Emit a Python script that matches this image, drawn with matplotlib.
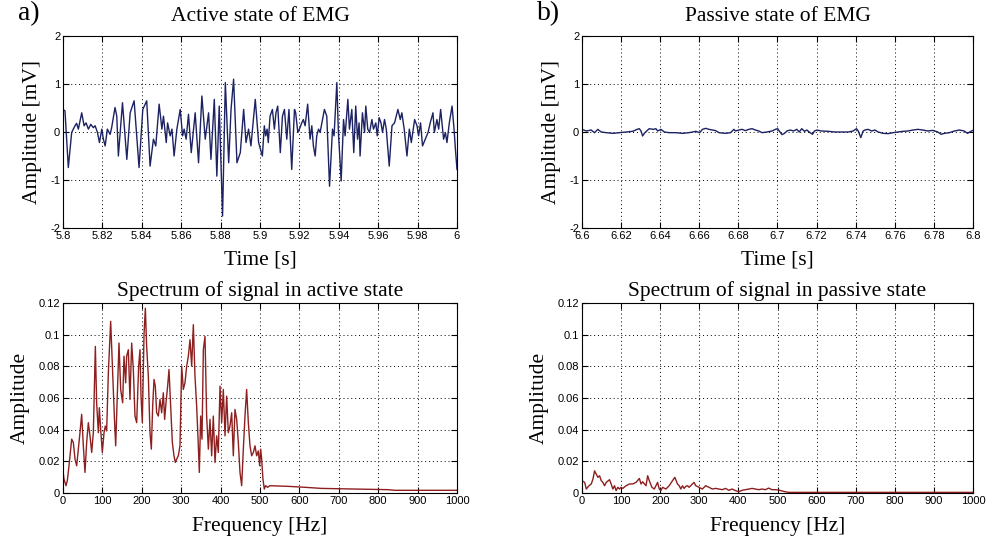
import matplotlib
matplotlib.use("Agg")
import matplotlib.pyplot as plt
from matplotlib.ticker import FixedLocator, FormatStrFormatter

plt.rcParams['axes.unicode_minus'] = False

# ---------------- data ----------------
active_t = [5.8000, 5.8010, 5.8027, 5.8044, 5.8061, 5.8069, 5.8078, 5.8095, 5.8107, 5.8117,
            5.8129, 5.8141, 5.8154, 5.8163, 5.8175, 5.8185, 5.8197, 5.8205, 5.8214, 5.8225,
            5.8239, 5.8247, 5.8264, 5.8273, 5.8281, 5.8302, 5.8324, 5.8341, 5.8361, 5.8386,
            5.8405, 5.8425, 5.8442, 5.8459, 5.8471, 5.8488, 5.8502, 5.8510, 5.8524, 5.8531,
            5.8544, 5.8553, 5.8564, 5.8578, 5.8595, 5.8607, 5.8615, 5.8625, 5.8637, 5.8651,
            5.8671, 5.8688, 5.8705, 5.8722, 5.8739, 5.8751, 5.8768, 5.8781, 5.8793, 5.8810,
            5.8824, 5.8841, 5.8853, 5.8866, 5.8883, 5.8900, 5.8917, 5.8929, 5.8942, 5.8954,
            5.8976, 5.8993, 5.9012, 5.9022, 5.9029, 5.9036, 5.9042, 5.9051, 5.9063, 5.9073,
            5.9081, 5.9090, 5.9103, 5.9114, 5.9124, 5.9136, 5.9147, 5.9161, 5.9175, 5.9181,
            5.9192, 5.9200, 5.9212, 5.9220, 5.9229, 5.9242, 5.9254, 5.9263, 5.9271, 5.9280,
            5.9288, 5.9297, 5.9305, 5.9327, 5.9339, 5.9353, 5.9368, 5.9376, 5.9390, 5.9398,
            5.9412, 5.9424, 5.9432, 5.9446, 5.9454, 5.9466, 5.9476, 5.9486, 5.9495, 5.9503,
            5.9508, 5.9520, 5.9531, 5.9537, 5.9547, 5.9556, 5.9568, 5.9576, 5.9588, 5.9595,
            5.9605, 5.9614, 5.9622, 5.9632, 5.9641, 5.9656, 5.9670, 5.9683, 5.9700, 5.9712,
            5.9720, 5.9732, 5.9746, 5.9758, 5.9768, 5.9785, 5.9797, 5.9805, 5.9815, 5.9825,
            5.9839, 5.9853, 5.9864, 5.9878, 5.9885, 5.9898, 5.9907, 5.9917, 5.9932, 5.9941,
            5.9949, 5.9961, 5.9975, 5.9985, 5.9992, 6.0000]
active_v = [0.47, 0.44, -0.74, -0.01, 0.13, 0.18, 0.06, 0.40, 0.13, 0.19,
            0.06, 0.16, 0.09, 0.13, -0.01, -0.22, 0.06, -0.15, -0.29, 0.06,
            -0.05, 0.09, 0.51, 0.33, -0.50, 0.61, -0.57, 0.40, 0.65, -0.74,
            0.47, 0.65, -0.71, -0.15, -0.29, 0.58, 0.06, 0.33, -0.22, 0.19,
            -0.08, 0.06, -0.50, 0.06, 0.47, -0.08, 0.06, -0.15, 0.37, -0.43,
            0.40, -0.64, 0.75, -0.15, 0.40, -0.57, 0.68, -0.92, 0.54, -1.75,
            1.03, -0.64, 0.47, 1.10, -0.64, -0.43, 0.47, -0.22, 0.06, -0.29,
            0.68, -0.22, -0.50, 0.13, -0.08, 0.06, -0.22, 0.33, 0.47, 0.06,
            0.40, 0.54, -0.43, 0.33, 0.47, -0.15, 0.47, -0.78, 0.47, 0.40,
            -0.01, 0.06, 0.19, 0.26, 0.13, 0.58, -0.15, 0.13, -0.29, -0.50,
            -0.08, 0.06, -0.01, 0.47, 0.33, -1.13, 0.06, -0.08, 1.03, -0.01,
            -1.02, 0.26, -0.08, 0.68, 0.06, 0.47, -0.43, 0.54, -0.15, 0.19,
            -0.50, 0.40, -0.01, 0.54, 0.06, -0.01, 0.26, 0.06, 0.19, -0.08,
            0.30, 0.19, -0.01, 0.26, 0.06, -0.71, 0.13, 0.19, 0.47, 0.26,
            0.40, 0.06, -0.50, 0.06, -0.22, 0.26, 0.13, -0.08, 0.19, -0.29,
            -0.15, -0.01, 0.19, 0.40, -0.01, 0.26, 0.06, 0.47, -0.15, -0.01,
            -0.22, 0.19, 0.54, 0.06, -0.36, -0.78]

passive_t = [6.6000, 6.6022, 6.6047, 6.6064, 6.6081, 6.6098, 6.6124, 6.6158, 6.6192, 6.6226,
             6.6259, 6.6282, 6.6293, 6.6302, 6.6310, 6.6319, 6.6331, 6.6344, 6.6365, 6.6378,
             6.6387, 6.6404, 6.6421, 6.6446, 6.6480, 6.6514, 6.6548, 6.6582, 6.6602, 6.6616,
             6.6633, 6.6650, 6.6667, 6.6684, 6.6700, 6.6734, 6.6760, 6.6777, 6.6785, 6.6802,
             6.6819, 6.6836, 6.6853, 6.6870, 6.6887, 6.6904, 6.6921, 6.6946, 6.6972, 6.6989,
             6.7001, 6.7009, 6.7023, 6.7036, 6.7048, 6.7065, 6.7082, 6.7099, 6.7111, 6.7124,
             6.7138, 6.7150, 6.7167, 6.7179, 6.7189, 6.7201, 6.7226, 6.7260, 6.7294, 6.7328,
             6.7362, 6.7387, 6.7404, 6.7413, 6.7426, 6.7438, 6.7447, 6.7464, 6.7481, 6.7498,
             6.7515, 6.7540, 6.7565, 6.7591, 6.7616, 6.7642, 6.7667, 6.7693, 6.7718, 6.7744,
             6.7769, 6.7794, 6.7820, 6.7837, 6.7854, 6.7879, 6.7905, 6.7930, 6.7955, 6.7972,
             6.7989, 6.8000]
passive_v = [0.055, 0.021, 0.041, -0.014, 0.055, 0.0, -0.014, -0.028, -0.014, 0.0,
             0.014, 0.055, 0.069, 0.021, -0.083, -0.028, 0.021, 0.069, 0.055, 0.069,
             0.021, 0.055, 0.0, -0.014, -0.014, -0.028, -0.014, 0.014, -0.014, 0.055,
             0.076, 0.055, 0.041, 0.028, -0.014, -0.028, -0.014, 0.055, 0.021, 0.041,
             0.055, 0.028, 0.055, 0.069, 0.041, 0.021, -0.014, 0.0, 0.021, 0.055,
             0.069, 0.021, -0.055, -0.028, 0.021, 0.041, 0.021, 0.055, 0.0, 0.069,
             0.014, 0.041, -0.014, -0.048, 0.021, 0.041, 0.021, 0.014, 0.0, 0.0,
             0.0, 0.021, 0.069, 0.021, -0.117, 0.021, 0.041, 0.055, 0.021, 0.041,
             0.0, -0.028, -0.034, -0.014, 0.0, 0.014, 0.021, 0.041, 0.055, 0.041,
             0.021, 0.034, 0.0, -0.048, -0.028, -0.014, 0.021, 0.041, 0.021, -0.028,
             0.014, 0.034]

active_f = [0.0, 2.5, 7.6, 11.0, 16.1, 22.0, 26.2, 30.5, 34.7, 38.9,
            43.1, 47.4, 51.6, 55.8, 60.1, 64.3, 68.5, 72.8, 77.0, 82.1,
            85.4, 89.7, 92.2, 95.6, 99.8, 104.1, 107.4, 110.8, 115.1, 121.0,
            126.1, 130.3, 133.7, 137.9, 142.1, 146.4, 151.4, 154.8, 159.0, 161.6,
            165.8, 170.0, 174.3, 178.5, 182.7, 187.0, 192.0, 195.4, 198.0, 201.3,
            205.6, 209.0, 212.3, 216.6, 220.8, 224.2, 227.6, 231.0, 234.3, 237.7,
            242.0, 246.2, 250.4, 254.6, 258.0, 261.4, 265.6, 269.0, 273.3, 277.5,
            281.7, 285.1, 288.5, 292.7, 296.9, 301.2, 305.4, 309.6, 313.9, 318.1,
            322.3, 326.6, 330.8, 335.0, 339.2, 343.5, 346.0, 349.4, 352.8, 356.2,
            360.4, 364.6, 368.9, 373.1, 377.3, 381.5, 385.8, 390.0, 394.2, 398.5,
            402.7, 406.9, 411.2, 415.4, 419.6, 423.8, 428.1, 432.3, 436.5, 440.8,
            445.0, 449.2, 453.5, 457.7, 461.9, 466.1, 470.4, 474.6, 478.8, 483.1,
            487.3, 491.5, 495.8, 499.1, 501.7, 504.2, 507.5, 510.9, 514.3, 519.4,
            525.3, 571.8, 614.1, 656.4, 741.0, 825.6, 842.5, 994.8, 1000.0]
active_a = [0.0140, 0.0088, 0.0046, 0.0078, 0.0193, 0.0340, 0.0319, 0.0214, 0.0172, 0.0277,
            0.0381, 0.0497, 0.0298, 0.0130, 0.0319, 0.0444, 0.0361, 0.0256, 0.0381, 0.0926,
            0.0570, 0.0381, 0.0539, 0.0402, 0.0256, 0.0381, 0.0423, 0.0392, 0.0759, 0.1084,
            0.0759, 0.0486, 0.0298, 0.0612, 0.0947, 0.0654, 0.0570, 0.0864, 0.0696, 0.0864,
            0.0905, 0.0591, 0.0947, 0.0780, 0.0486, 0.0444, 0.0801, 0.0905, 0.0612, 0.0444,
            0.1000, 0.1167, 0.0926, 0.0738, 0.0381, 0.0277, 0.0549, 0.0717, 0.0675, 0.0507,
            0.0486, 0.0591, 0.0507, 0.0633, 0.0465, 0.0570, 0.0675, 0.0780, 0.0549, 0.0319,
            0.0235, 0.0193, 0.0214, 0.0235, 0.0298, 0.0801, 0.0654, 0.0696, 0.0801, 0.0864,
            0.0968, 0.0801, 0.1063, 0.0738, 0.0549, 0.0298, 0.0130, 0.0486, 0.0340, 0.0905,
            0.0989, 0.0486, 0.0277, 0.0465, 0.0235, 0.0486, 0.0193, 0.0361, 0.0256, 0.0675,
            0.0444, 0.0654, 0.0361, 0.0612, 0.0381, 0.0423, 0.0507, 0.0235, 0.0528, 0.0465,
            0.0319, 0.0130, 0.0046, 0.0277, 0.0486, 0.0654, 0.0444, 0.0298, 0.0235, 0.0256,
            0.0298, 0.0235, 0.0266, 0.0172, 0.0277, 0.0214, 0.0088, 0.0025, 0.0046, 0.0036,
            0.0046, 0.0042, 0.0036, 0.0029, 0.0025, 0.0021, 0.0017, 0.0017, 0.0017]

passive_f = [0.0, 6.8, 11.0, 17.8, 23.7, 28.0, 32.2, 36.5, 40.7, 44.9,
             49.2, 53.4, 57.7, 61.9, 70.4, 74.6, 78.9, 83.1, 87.3, 91.6,
             95.8, 100.1, 104.3, 112.8, 121.3, 129.7, 138.2, 146.7, 150.9, 155.2,
             163.7, 167.9, 172.1, 178.9, 184.9, 189.1, 193.3, 197.6, 201.8, 206.1,
             214.5, 223.0, 231.5, 237.4, 244.2, 248.5, 252.7, 256.9, 261.2, 265.4,
             269.7, 273.9, 282.4, 286.6, 290.9, 299.3, 307.8, 316.3, 324.8, 333.3,
             341.7, 350.2, 358.7, 367.2, 375.7, 384.1, 392.6, 401.1, 409.6, 418.1,
             426.5, 435.0, 443.5, 452.0, 460.5, 468.9, 477.4, 485.9, 494.4, 502.9,
             511.3, 519.8, 528.3, 1000.0]
passive_a = [0.0078, 0.0067, 0.0025, 0.0046, 0.0057, 0.0088, 0.0140, 0.0119, 0.0099, 0.0109,
             0.0078, 0.0067, 0.0046, 0.0067, 0.0084, 0.0057, 0.0025, 0.0046, 0.0015, 0.0036,
             0.0025, 0.0036, 0.0029, 0.0046, 0.0057, 0.0057, 0.0067, 0.0092, 0.0057, 0.0071,
             0.0046, 0.0109, 0.0078, 0.0036, 0.0025, 0.0046, 0.0067, 0.0025, 0.0015, 0.0036,
             0.0025, 0.0046, 0.0078, 0.0099, 0.0057, 0.0046, 0.0025, 0.0046, 0.0029, 0.0042,
             0.0046, 0.0036, 0.0057, 0.0067, 0.0046, 0.0036, 0.0025, 0.0046, 0.0036, 0.0025,
             0.0029, 0.0025, 0.0021, 0.0029, 0.0017, 0.0025, 0.0015, 0.0008, 0.0017, 0.0021,
             0.0025, 0.0029, 0.0025, 0.0021, 0.0025, 0.0021, 0.0031, 0.0021, 0.0021, 0.0019,
             0.0013, 0.0008, 0.0004, 0.0004]

time_ticks_a = [5.8, 5.82, 5.84, 5.86, 5.88, 5.9, 5.92, 5.94, 5.96, 5.98, 6.0]
time_ticks_b = [6.6, 6.62, 6.64, 6.66, 6.68, 6.7, 6.72, 6.74, 6.76, 6.78, 6.8]
emg_yticks = [-2, -1, 0, 1, 2]
freq_ticks = [0, 100, 200, 300, 400, 500, 600, 700, 800, 900, 1000]
spec_yticks = [0, 0.02, 0.04, 0.06, 0.08, 0.1, 0.12]

# ---------------- style ----------------
W, H = 990, 541
SERIF = ['Liberation Serif', 'DejaVu Serif']
SANS = ['Liberation Sans', 'DejaVu Sans']
SIG_COLOR = '#1c2262'
SPEC_COLOR = '#8e1f1f'

fig = plt.figure(figsize=(W / 100, H / 100), dpi=100)


def make_axes(left, top, right, bottom):
    return fig.add_axes([left / W, 1 - bottom / H, (right - left) / W, (bottom - top) / H])


def style(ax, xticks, yticks, xlim, ylim):
    ax.set_xlim(*xlim)
    ax.set_ylim(*ylim)
    ax.xaxis.set_major_locator(FixedLocator(xticks))
    ax.yaxis.set_major_locator(FixedLocator(yticks))
    ax.xaxis.set_major_formatter(FormatStrFormatter('%g'))
    ax.yaxis.set_major_formatter(FormatStrFormatter('%g'))
    ax.tick_params(direction='in', length=4, width=0.8, top=True, right=True,
                   labelsize=8, pad=2, colors='k')
    for lab in ax.get_xticklabels() + ax.get_yticklabels():
        lab.set_family(SANS)
    ax.grid(True, color='k', linestyle=(0, (1, 3)), linewidth=0.7)
    for s in ax.spines.values():
        s.set_linewidth(0.8)
        s.set_color('k')


ax1 = make_axes(63, 36, 457, 228)
ax1.plot(active_t, active_v, color=SIG_COLOR, lw=1.0)
style(ax1, time_ticks_a, emg_yticks, (5.8, 6.0), (-2, 2))
ax1.set_title('Active state of EMG', family=SERIF, fontsize=15.5, pad=11)
ax1.set_xlabel('Time [s]', family=SERIF, fontsize=15.5, labelpad=7)
ax1.set_ylabel('Amplitude [mV]', family=SERIF, fontsize=15.5, labelpad=6)

ax2 = make_axes(582, 36, 973, 228)
ax2.plot(passive_t, passive_v, color=SIG_COLOR, lw=1.0)
style(ax2, time_ticks_b, emg_yticks, (6.6, 6.8), (-2, 2))
ax2.set_title('Passive state of EMG', family=SERIF, fontsize=15.5, pad=11)
ax2.set_xlabel('Time [s]', family=SERIF, fontsize=15.5, labelpad=7)
ax2.set_ylabel('Amplitude [mV]', family=SERIF, fontsize=15.5, labelpad=6)

ax3 = make_axes(63, 303, 457, 493)
ax3.plot(active_f, active_a, color=SPEC_COLOR, lw=1.0)
style(ax3, freq_ticks, spec_yticks, (0, 1000), (0, 0.12))
ax3.set_title('Spectrum of signal in active state', family=SERIF, fontsize=15.5, pad=5)
ax3.set_xlabel('Frequency [Hz]', family=SERIF, fontsize=15.5, labelpad=8)
ax3.set_ylabel('Amplitude', family=SERIF, fontsize=15.5, labelpad=6)

ax4 = make_axes(582, 303, 973, 493)
ax4.plot(passive_f, passive_a, color=SPEC_COLOR, lw=1.0)
style(ax4, freq_ticks, spec_yticks, (0, 1000), (0, 0.12))
ax4.set_title('Spectrum of signal in passive state', family=SERIF, fontsize=15.5, pad=5)
ax4.set_xlabel('Frequency [Hz]', family=SERIF, fontsize=15.5, labelpad=8)
ax4.set_ylabel('Amplitude', family=SERIF, fontsize=15.5, labelpad=6)

fig.text(18 / W, 1 - 14 / H, 'a)', family=SERIF, fontsize=20, ha='left', va='center')
fig.text(537 / W, 1 - 14 / H, 'b)', family=SERIF, fontsize=20, ha='left', va='center')

fig.savefig('out.png', dpi=100, facecolor='white')
